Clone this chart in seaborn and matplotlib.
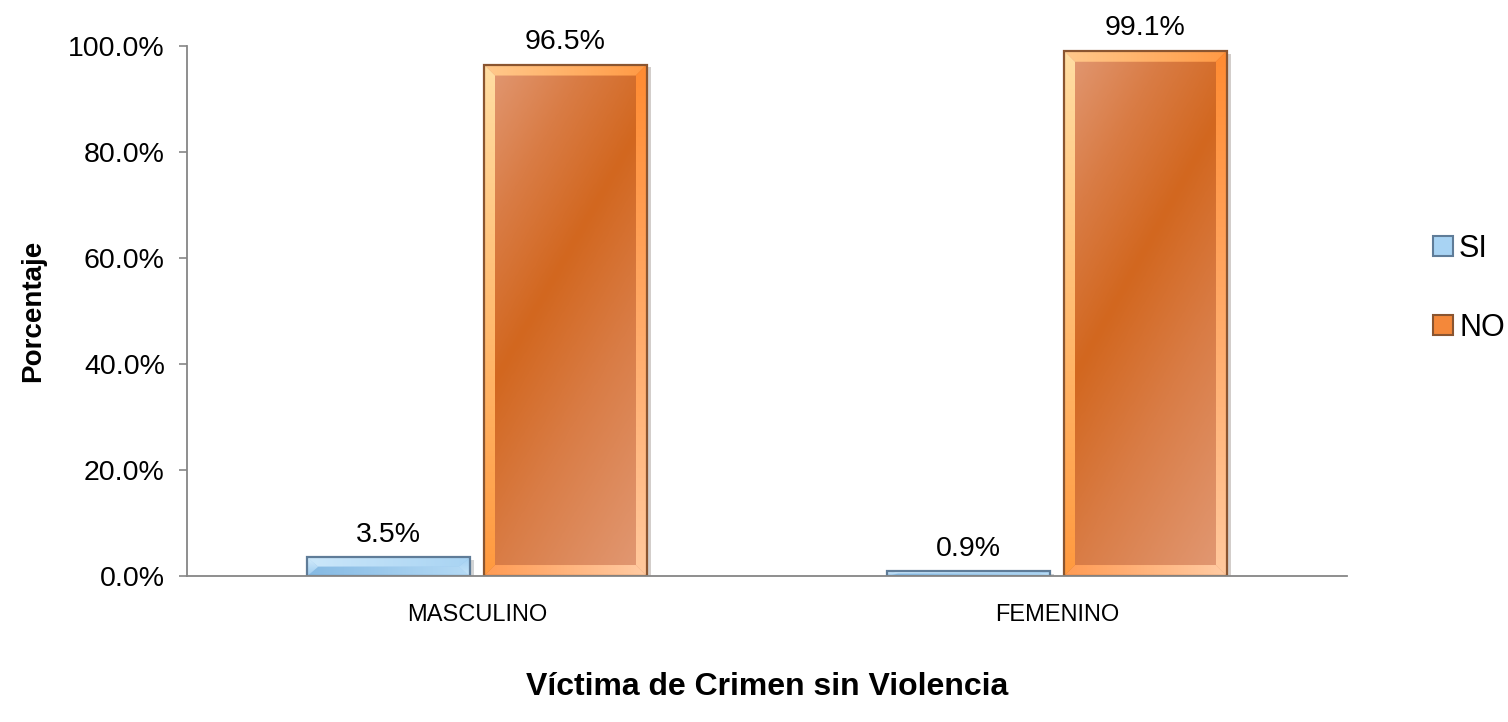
import numpy as np
import pandas as pd
import matplotlib
matplotlib.use("Agg")
import matplotlib.pyplot as plt
import seaborn as sns
from matplotlib.patches import Polygon, Rectangle
from matplotlib.colors import LinearSegmentedColormap
from matplotlib import patheffects as pe

# datos
categorias = ["MASCULINO", "FEMENINO"]
respuestas = ["SI", "NO"]
valores_si = [3.5, 0.9]
valores_no = [96.5, 99.1]
ticks_y = [0, 20, 40, 60, 80, 100]

df = pd.DataFrame({
    "sexo": categorias * 2,
    "respuesta": ["SI"] * len(categorias) + ["NO"] * len(categorias),
    "porcentaje": valores_si + valores_no,
})

sns.set_style("white")
plt.rcParams["font.family"] = ["Liberation Sans", "DejaVu Sans"]
plt.rcParams["text.color"] = "black"
plt.rcParams["axes.labelcolor"] = "black"
plt.rcParams["xtick.color"] = "black"
plt.rcParams["ytick.color"] = "black"

# colores estilo Excel (relieve + degradado)
estilos = {
    "SI": dict(base="#9DC8EE", claro="#B2D7F3", medio="#A0CBEF", oscuro="#92C2EB",
               borde="#5F7C98", leyenda="#A8D3F3",
               arriba=("#CBE7FA", "#A9D4F3"), abajo=("#86BAE3", "#B4DAF5"),
               izq=("#D6EDFC", "#9CCBEF"), der=("#A3D0F1", "#C6E4F9")),
    "NO": dict(base="#D96F2E", claro="#E29A76", medio="#D97C45", oscuro="#D2671F",
               borde="#8A5530", leyenda="#F4883A",
               arriba=("#FFC98C", "#FF9A45"), abajo=("#FF9C55", "#FFCBA3"),
               izq=("#FFDDA2", "#FF9A40"), der=("#FF8C33", "#FFC89C")),
}

fig = plt.figure(figsize=(15.08, 7.22), dpi=100)
ax = fig.add_axes([0.124, 0.2022, 0.7692, 0.7341])

sns.barplot(data=df, x="sexo", y="porcentaje", hue="respuesta",
            order=categorias, hue_order=respuestas,
            palette={k: v["base"] for k, v in estilos.items()},
            width=0.61, gap=0.08, ax=ax)

ax.set_xlim(-0.5, 1.5)
ax.set_ylim(0, 100)

# pixeles por unidad de datos (para el bisel)
p0 = ax.transData.transform((0, 0))
p1 = ax.transData.transform((1, 1))
ppx, ppy = p1[0] - p0[0], p1[1] - p0[1]
bisel = 11


def degradado(pts, colores, vertical, z):
    # rellena el poligono con un degradado lineal de dos colores
    poly = Polygon(pts, closed=True, facecolor="none", edgecolor="none", zorder=z)
    ax.add_patch(poly)
    xs = [p[0] for p in pts]
    ys = [p[1] for p in pts]
    t = np.linspace(0, 1, 40)
    arr = np.tile(t[:, None], (1, 2)) if vertical else np.tile(t[None, :], (2, 1))
    cm = LinearSegmentedColormap.from_list("g", list(colores))
    im = ax.imshow(arr, cmap=cm, extent=[min(xs), max(xs), min(ys), max(ys)],
                   aspect="auto", origin="upper", interpolation="bilinear", zorder=z)
    im.set_clip_path(poly)


for cont, resp in zip(ax.containers, respuestas):
    est = estilos[resp]
    cmap = LinearSegmentedColormap.from_list(
        resp, [(0, est["claro"]), (0.22, est["medio"]), (0.42, est["oscuro"]),
               (0.65, est["medio"]), (1, est["claro"])])
    for bar in cont:
        x, y = bar.get_x(), bar.get_y()
        w, h = bar.get_width(), bar.get_height()
        z = bar.get_zorder()
        bar.set_edgecolor("none")
        bar.set_path_effects([pe.SimplePatchShadow(offset=(3, -2), alpha=0.22), pe.Normal()])

        xs = np.linspace(0, 1, 80)
        prof = np.linspace(0, 1, 120)
        X, D = np.meshgrid(xs, prof)
        grad = (X + 1.8 * D) / 2.8
        im = ax.imshow(grad, cmap=cmap, extent=[x, x + w, y, y + h], aspect="auto",
                       origin="upper", interpolation="bilinear", zorder=z + 0.1)
        im.set_clip_path(bar)

        dx = min(bisel / ppx, w / 2)
        dy = min(bisel / ppy, h / 2)
        degradado([(x, y + h), (x + w, y + h), (x + w - dx, y + h - dy), (x + dx, y + h - dy)],
                  est["arriba"], False, z + 0.2)
        degradado([(x, y), (x + w, y), (x + w - dx, y + dy), (x + dx, y + dy)],
                  est["abajo"], False, z + 0.2)
        degradado([(x, y), (x, y + h), (x + dx, y + h - dy), (x + dx, y + dy)],
                  est["izq"], True, z + 0.2)
        degradado([(x + w, y), (x + w, y + h), (x + w - dx, y + h - dy), (x + w - dx, y + dy)],
                  est["der"], True, z + 0.2)
        ax.add_patch(Rectangle((x, y), w, h, fill=False, edgecolor=est["borde"],
                               linewidth=1.6, zorder=z + 0.3))

    ax.bar_label(cont, labels=[f"{v:.1f}%" for v in cont.datavalues],
                 padding=7, fontsize=20.5, color="black")

ax.set_xlim(-0.5, 1.5)
ax.set_ylim(0, 100)

ax.set_yticks(ticks_y)
ax.set_yticklabels([f"{t:.1f}%" for t in ticks_y])
ax.tick_params(axis="y", length=6, width=1.2, color="#868686", pad=10,
               labelsize=20.5, left=True, direction="out")
ax.tick_params(axis="x", length=0, pad=20, labelsize=17)

sns.despine(ax=ax)
for lado in ["left", "bottom"]:
    ax.spines[lado].set_color("#868686")
    ax.spines[lado].set_linewidth(1.3)

ax.set_xlabel("Víctima de Crimen sin Violencia", fontsize=23, fontweight="bold", labelpad=33)
ax.set_ylabel("Porcentaje", fontsize=20, fontweight="bold", labelpad=16)

handles, labels = ax.get_legend_handles_labels()
ax.get_legend().remove()
for hnd, lab in zip(handles, labels):
    hnd.set_facecolor(estilos[lab]["leyenda"])
    hnd.set_edgecolor(estilos[lab]["borde"])
    hnd.set_linewidth(1.5)
fig.legend(handles, labels, loc="center left", bbox_to_anchor=(0.9503, 0.601),
           frameon=False, fontsize=22, handlelength=0.65, handleheight=0.65,
           handletextpad=0.2, labelspacing=1.6, borderpad=0, borderaxespad=0)

fig.savefig("out.png", dpi=100)
